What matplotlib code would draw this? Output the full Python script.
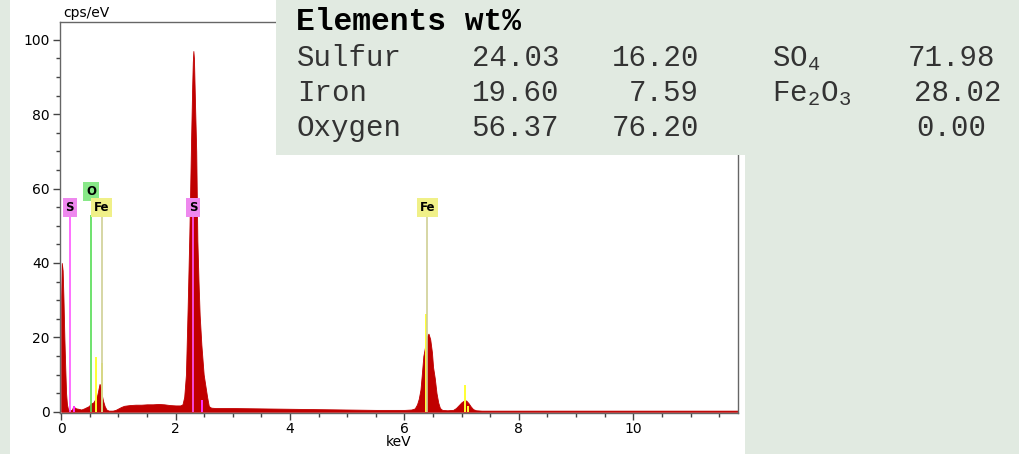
# espectro EDS con tabla de composicion
import matplotlib.pyplot as plt
from matplotlib.patches import Rectangle
from matplotlib.ticker import MultipleLocator

# espectro (keV, cps/eV)
energy_kev = [0.0, 0.01, 0.025, 0.04, 0.055, 0.07, 0.085, 0.10, 0.12, 0.15,
              0.19, 0.21, 0.23, 0.26, 0.30, 0.35, 0.40, 0.44, 0.48, 0.52,
              0.56, 0.60, 0.63, 0.65, 0.67, 0.69, 0.71, 0.73, 0.76, 0.79,
              0.83, 0.90, 0.95, 1.00, 1.05, 1.10, 1.20, 1.30, 1.40, 1.50,
              1.60, 1.70, 1.80, 1.90, 2.00, 2.08, 2.12, 2.15, 2.18, 2.21,
              2.24, 2.27, 2.29, 2.30, 2.31, 2.32, 2.34, 2.36, 2.38, 2.40,
              2.42, 2.45, 2.47, 2.49, 2.52, 2.55, 2.58, 2.62, 2.70, 3.0,
              3.5, 4.0, 4.5, 5.0, 5.5, 6.0, 6.12, 6.18, 6.22, 6.25,
              6.28, 6.30, 6.33, 6.36, 6.38, 6.40, 6.42, 6.45, 6.48, 6.50,
              6.53, 6.56, 6.59, 6.62, 6.66, 6.75, 6.85, 6.90, 6.95, 7.00,
              7.05, 7.08, 7.12, 7.16, 7.20, 7.25, 7.35, 8.0, 9.0, 10.0,
              11.0, 11.9]
cps_ev = [31, 40, 38, 30, 20, 12, 5, 2, 0.6, 0.3,
          0.6, 1.5, 1.2, 0.9, 0.8, 0.6, 0.9, 1.2, 1.5, 2.2,
          2.5, 3.5, 4.5, 6, 7.5, 6.5, 4.5, 3, 1.5, 0.6,
          0.3, 0.3, 0.5, 0.9, 1.3, 1.6, 1.8, 1.9, 1.9, 2.0,
          2.0, 2.1, 2.0, 1.8, 1.7, 1.7, 2.0, 4, 10, 28,
          48, 73, 88, 94, 97, 95, 82, 70, 46, 35,
          26, 18, 14, 10, 7, 4, 1.5, 1.1, 1.0, 1.0,
          0.9, 0.8, 0.7, 0.6, 0.5, 0.5, 0.6, 0.9, 2, 3.5,
          6, 9.5, 15, 17.5, 19, 20.5, 21, 19.5, 16, 12,
          9, 5, 2.5, 1, 0.5, 0.4, 0.5, 1.0, 1.8, 2.6,
          3.1, 3.0, 2.3, 1.4, 0.7, 0.4, 0.3, 0.3, 0.3, 0.3,
          0.3, 0.3]

# lineas de elementos
line_kev = [0.15, 0.525, 0.705, 2.307, 6.40]
line_lab = ['S', 'O', 'Fe', 'S', 'Fe']
lab_y = [55, 59.3, 55, 55, 55]

# marcas cortas de intensidad
yellow_kev = [0.605, 0.72, 6.385, 7.05, 7.11]
yellow_h = [14.8, 13.2, 26.3, 7.2, 1.5]
pink_kev = [0.22, 2.455]
pink_h = [1.5, 3.1]

# tabla
elements = ['Sulfur', 'Iron', 'Oxygen']
wt_col1 = ['24.03', '19.60', '56.37']
wt_col2 = ['16.20', '7.59', '76.20']
compounds = ['SO$_\\mathregular{4}$', 'Fe$_\\mathregular{2}$O$_\\mathregular{3}$', '']
wt_col4 = ['71.98', '28.02', '0.00']

colors = {'S': ('#ee88ee', '#ff55ff'), 'O': ('#88e888', '#55dd55'),
          'Fe': ('#f0f088', '#cfcf95')}

W, H = 1019, 454
bg = '#e1eae1'

fig = plt.figure(figsize=(W / 100, H / 100), dpi=100, facecolor=bg)
fig.add_artist(Rectangle((10 / W, 0), 735 / W, 1, transform=fig.transFigure,
                         facecolor='white', edgecolor='none', zorder=-1))

ax = fig.add_axes([59.5 / W, (454 - 412.5) / H, (738 - 59.5) / W, (412.5 - 22) / H])
ax.fill_between(energy_kev, cps_ev, 0, color='#c00000', lw=0.6, zorder=2)

for x, h in zip(yellow_kev, yellow_h):
    ax.vlines(x, 0, h, color='#ffff33', lw=1.4, zorder=3)
for x, h in zip(pink_kev, pink_h):
    ax.vlines(x, 0, h, color='#ff33ff', lw=1.4, zorder=3)

for x, lab, y in zip(line_kev, line_lab, lab_y):
    fc, lc = colors[lab]
    ax.vlines(x, 0, 52.8, color=lc, lw=1.2, zorder=4)
    ax.text(x, y, lab, ha='center', va='center', fontsize=8.5, fontweight='bold',
            zorder=5, bbox=dict(boxstyle='square,pad=0.25', fc=fc, ec='none'))

ax.set_xlim(-0.03, 11.83)
ax.set_ylim(-0.2, 104.8)
ax.xaxis.set_major_locator(MultipleLocator(2))
ax.xaxis.set_minor_locator(MultipleLocator(0.5))
ax.yaxis.set_major_locator(MultipleLocator(20))
ax.yaxis.set_minor_locator(MultipleLocator(5))
ax.tick_params(which='major', length=5, width=1, color='#444444', labelsize=10, pad=2)
ax.tick_params(which='minor', length=3, width=1, color='#444444')
for s in ax.spines.values():
    s.set_color('#666666')
    s.set_linewidth(1)
ax.set_xlabel('keV', fontsize=10, labelpad=-1)
ax.text(0.005, 1.004, 'cps/eV', transform=ax.transAxes, fontsize=10, va='bottom')

# caja de la tabla
fig.add_artist(Rectangle((276 / W, 1 - 155 / H), 1 - 276 / W, 155 / H,
                         transform=fig.transFigure, facecolor=bg, edgecolor='none', zorder=5))


def ftext(x, y, s, **kw):
    fig.text(x / W, 1 - y / H, s, va='baseline', family='Liberation Mono', zorder=6, **kw)


ftext(296, 30, 'Elements wt%', fontsize=22.5, fontweight='bold')
base = [66, 101, 136]
col4_x = [908, 914, 916]
for i in range(3):
    ftext(297, base[i], elements[i], fontsize=21, color='#333333')
    ftext(559, base[i], wt_col1[i], fontsize=21, ha='right', color='#333333')
    ftext(699, base[i], wt_col2[i], fontsize=21, ha='right', color='#333333')
    ftext(772, base[i], compounds[i], fontsize=21, color='#333333')
    ftext(col4_x[i], base[i], wt_col4[i], fontsize=21, color='#333333')

plt.savefig('out.png', dpi=100, facecolor=bg)
plt.close()
